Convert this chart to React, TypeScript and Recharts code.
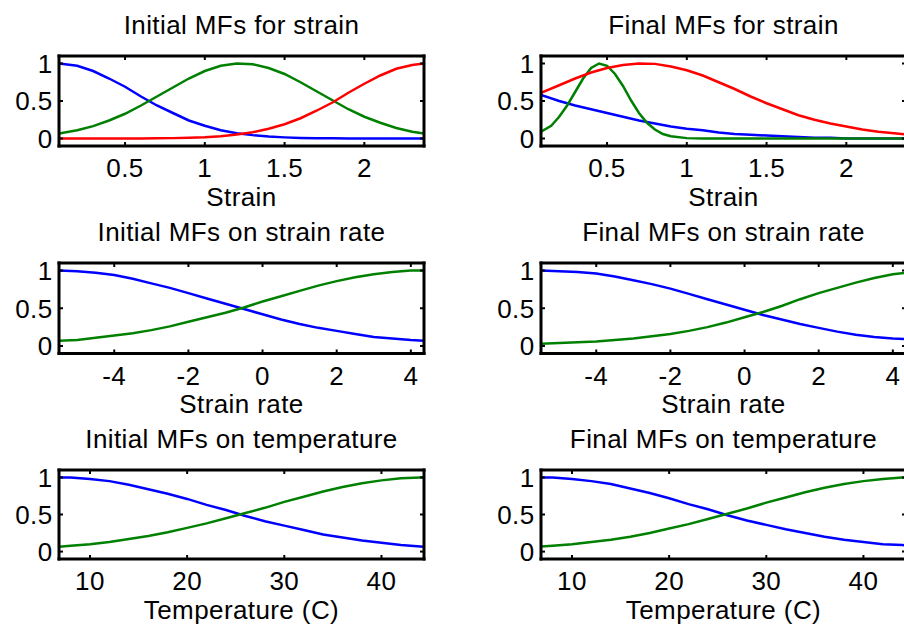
import React from 'react';
import { LineChart, Line, XAxis, YAxis, ReferenceLine } from 'recharts';

// ---------- data ----------
const strainX = [0.086, 0.2, 0.3, 0.4, 0.5, 0.6, 0.7, 0.8, 0.9, 1.0, 1.1, 1.2, 1.3, 1.4, 1.5, 1.6, 1.7, 1.8, 1.9, 2.0, 2.1, 2.2, 2.3, 2.374];
const initStrainBlue = [1.0, 0.97, 0.9, 0.8, 0.69, 0.56, 0.44, 0.34, 0.24, 0.17, 0.11, 0.07, 0.045, 0.026, 0.015, 0.008, 0.004, 0.002, 0.001, 0, 0, 0, 0, 0];
const initStrainGreen = [0.065, 0.11, 0.165, 0.24, 0.33, 0.44, 0.56, 0.68, 0.8, 0.9, 0.97, 1.0, 0.99, 0.94, 0.86, 0.75, 0.63, 0.51, 0.39, 0.29, 0.21, 0.14, 0.09, 0.065];
const initStrainRed = [0, 0, 0, 0, 0, 0.001, 0.003, 0.005, 0.01, 0.018, 0.031, 0.052, 0.084, 0.13, 0.19, 0.27, 0.37, 0.48, 0.61, 0.73, 0.84, 0.93, 0.98, 1.0];

const finalStrainBlue = [0.58, 0.5, 0.44, 0.39, 0.34, 0.29, 0.24, 0.2, 0.16, 0.13, 0.11, 0.08, 0.06, 0.05, 0.04, 0.03, 0.02, 0.01, 0.01, 0, 0, 0, 0, 0];
const finalStrainRed = [0.61, 0.71, 0.8, 0.88, 0.94, 0.98, 1.0, 0.995, 0.96, 0.91, 0.84, 0.75, 0.66, 0.56, 0.47, 0.39, 0.31, 0.25, 0.2, 0.16, 0.12, 0.09, 0.07, 0.055];
const finalStrainGreenX = [0.086, 0.15, 0.2, 0.25, 0.3, 0.35, 0.4, 0.45, 0.5, 0.55, 0.6, 0.65, 0.7, 0.75, 0.8, 0.85, 0.9, 1.0, 1.1, 1.5, 2.0, 2.374];
const finalStrainGreen = [0.09, 0.17, 0.29, 0.44, 0.62, 0.8, 0.94, 1.0, 0.97, 0.86, 0.7, 0.51, 0.34, 0.21, 0.12, 0.06, 0.03, 0.005, 0, 0, 0, 0];

const rateX = [-5.49, -5, -4.5, -4, -3.5, -3, -2.5, -2, -1.5, -1, -0.5, 0, 0.5, 1, 1.5, 2, 2.5, 3, 3.5, 4, 4.355];
const initRateBlue = [1.0, 0.99, 0.97, 0.94, 0.89, 0.83, 0.77, 0.7, 0.63, 0.56, 0.49, 0.42, 0.35, 0.29, 0.24, 0.2, 0.16, 0.12, 0.1, 0.08, 0.07];
const initRateGreen = [0.07, 0.08, 0.11, 0.14, 0.17, 0.21, 0.26, 0.32, 0.38, 0.44, 0.51, 0.59, 0.66, 0.73, 0.8, 0.86, 0.91, 0.95, 0.98, 1.0, 1.0];
const finalRateBlue = [1.0, 0.99, 0.98, 0.96, 0.92, 0.87, 0.82, 0.76, 0.69, 0.62, 0.55, 0.48, 0.41, 0.35, 0.29, 0.24, 0.19, 0.15, 0.12, 0.1, 0.09];
const finalRateGreen = [0.03, 0.04, 0.05, 0.06, 0.08, 0.1, 0.13, 0.16, 0.2, 0.25, 0.31, 0.38, 0.45, 0.53, 0.62, 0.7, 0.77, 0.84, 0.9, 0.95, 0.97];

const tempX = [6.81, 8, 10, 12, 14, 16, 18, 20, 22, 24, 26, 28, 30, 32, 34, 36, 38, 40, 42, 44, 44.38];
const initTempBlue = [1.0, 1.0, 0.98, 0.95, 0.9, 0.84, 0.78, 0.71, 0.63, 0.56, 0.48, 0.41, 0.35, 0.29, 0.23, 0.19, 0.15, 0.12, 0.09, 0.07, 0.065];
const initTempGreen = [0.065, 0.08, 0.1, 0.13, 0.17, 0.21, 0.26, 0.32, 0.38, 0.45, 0.52, 0.59, 0.67, 0.74, 0.81, 0.87, 0.92, 0.96, 0.99, 1.0, 1.0];
const finalTempBlue = [1.0, 1.0, 0.98, 0.95, 0.91, 0.85, 0.79, 0.72, 0.64, 0.57, 0.49, 0.42, 0.36, 0.3, 0.25, 0.2, 0.16, 0.13, 0.1, 0.09, 0.08];
const finalTempGreen = [0.07, 0.08, 0.1, 0.13, 0.16, 0.2, 0.25, 0.31, 0.37, 0.44, 0.51, 0.58, 0.66, 0.73, 0.8, 0.86, 0.91, 0.95, 0.98, 1.0, 1.0];

const strainTicks = [0.5, 1, 1.5, 2];
const rateTicks = [-4, -2, 0, 2, 4];
const tempTicks = [10, 20, 30, 40];
const yTicks = [0, 0.5, 1];

const strainDomain: [number, number] = [0.086, 2.374];
const rateDomain: [number, number] = [-5.49, 4.355];
const tempDomain: [number, number] = [6.81, 44.38];

const BLUE = '#0000ff';
const GREEN = '#008000';
const RED = '#ff0000';

// ---------- layout ----------
const FONT = '"Liberation Sans", Arial, Helvetica, sans-serif';
const FS = 26;
const PLOT_W = 365;
const COLS = [59, 541];
const ROWS = [
  { top: 55.5, h: 90 },
  { top: 262.5, h: 90.5 },
  { top: 469.5, h: 89 },
];
const YAXIS_W = 60;
const XAXIS_H = 40;

type Series = { xs: number[]; ys: number[]; color: string };

const toPts = (xs: number[], ys: number[]) => xs.map((x, i) => ({ x, y: ys[i] }));

function Panel(props: {
  col: number;
  row: number;
  title: string;
  xlabel: string;
  domain: [number, number];
  ticks: number[];
  series: Series[];
}) {
  const { col, row, title, xlabel, domain, ticks, series } = props;
  const left = COLS[col];
  const { top, h } = ROWS[row];
  const ML = 80, MT = 10, MR = 10, MB = 60;
  const W = ML + PLOT_W + MR;
  const H = MT + h + MB;

  const XTick = (p: any) => {
    const { x, y, payload } = p;
    return (
      <g>
        <line x1={x} x2={x} y1={y} y2={y - 4} stroke="#000" strokeWidth={2} />
        <line x1={x} x2={x} y1={y - h} y2={y - h + 4} stroke="#000" strokeWidth={2} />
        <text x={x} y={y + 22 + 9.3} textAnchor="middle" fontFamily={FONT} fontSize={FS} letterSpacing={0.4} fill="#000">
          {String(payload.value)}
        </text>
      </g>
    );
  };
  const YTick = (p: any) => {
    const { x, y, payload } = p;
    return (
      <g>
        <line x1={x} x2={x + 4} y1={y} y2={y} stroke="#000" strokeWidth={2} />
        <line x1={x + PLOT_W} x2={x + PLOT_W - 4} y1={y} y2={y} stroke="#000" strokeWidth={2} />
        <text x={x - 6.5} y={y + 9.3} textAnchor="end" fontFamily={FONT} fontSize={FS} letterSpacing={0.4} fill="#000">
          {String(payload.value)}
        </text>
      </g>
    );
  };

  const textStyle: React.CSSProperties = {
    position: 'absolute',
    width: 440,
    left: left + PLOT_W / 2 - 220,
    textAlign: 'center',
    fontFamily: FONT,
    fontSize: FS,
    lineHeight: `${FS}px`,
    letterSpacing: 0.4,
    color: '#000',
    whiteSpace: 'nowrap',
  };

  return (
    <>
      <div style={{ ...textStyle, top: top - 30.5 - 12.7 }}>{title}</div>
      <div style={{ ...textStyle, top: top + h + 51 - 12.7 }}>{xlabel}</div>
      <div style={{ position: 'absolute', left: left - ML, top: top - MT }}>
        <LineChart width={W} height={H} margin={{ top: MT, right: MR, bottom: MB - XAXIS_H, left: ML - YAXIS_W }}>
          <XAxis
            type="number"
            dataKey="x"
            domain={domain}
            allowDataOverflow
            ticks={ticks}
            interval={0}
            tick={XTick}
            tickLine={false}
            tickSize={0}
            tickMargin={0}
            height={XAXIS_H}
            axisLine={{ stroke: '#000', strokeWidth: 3, strokeLinecap: 'square' }}
          />
          <YAxis
            type="number"
            domain={[-0.1, 1.1]}
            allowDataOverflow
            ticks={yTicks}
            interval={0}
            tick={YTick}
            tickLine={false}
            tickSize={0}
            tickMargin={0}
            width={YAXIS_W}
            axisLine={{ stroke: '#000', strokeWidth: 3, strokeLinecap: 'square' }}
          />
          {series.map((s, i) => (
            <Line
              key={i}
              data={toPts(s.xs, s.ys)}
              dataKey="y"
              type="linear"
              stroke={s.color}
              strokeWidth={2.5}
              dot={false}
              activeDot={false}
              isAnimationActive={false}
            />
          ))}
          <ReferenceLine y={1.1} stroke="#000" strokeWidth={3} strokeLinecap="square" />
          <ReferenceLine x={domain[1]} stroke="#000" strokeWidth={3} strokeLinecap="square" />
        </LineChart>
      </div>
    </>
  );
}

export default function App() {
  return (
    <div style={{ position: 'fixed', left: 0, top: 0, width: 904, height: 629, overflow: 'hidden', background: '#fff' }}>
      <Panel
        col={0}
        row={0}
        title="Initial MFs for strain"
        xlabel="Strain"
        domain={strainDomain}
        ticks={strainTicks}
        series={[
          { xs: strainX, ys: initStrainBlue, color: BLUE },
          { xs: strainX, ys: initStrainGreen, color: GREEN },
          { xs: strainX, ys: initStrainRed, color: RED },
        ]}
      />
      <Panel
        col={1}
        row={0}
        title="Final MFs for strain"
        xlabel="Strain"
        domain={strainDomain}
        ticks={strainTicks}
        series={[
          { xs: strainX, ys: finalStrainBlue, color: BLUE },
          { xs: finalStrainGreenX, ys: finalStrainGreen, color: GREEN },
          { xs: strainX, ys: finalStrainRed, color: RED },
        ]}
      />
      <Panel
        col={0}
        row={1}
        title="Initial MFs on strain rate"
        xlabel="Strain rate"
        domain={rateDomain}
        ticks={rateTicks}
        series={[
          { xs: rateX, ys: initRateBlue, color: BLUE },
          { xs: rateX, ys: initRateGreen, color: GREEN },
        ]}
      />
      <Panel
        col={1}
        row={1}
        title="Final MFs on strain rate"
        xlabel="Strain rate"
        domain={rateDomain}
        ticks={rateTicks}
        series={[
          { xs: rateX, ys: finalRateBlue, color: BLUE },
          { xs: rateX, ys: finalRateGreen, color: GREEN },
        ]}
      />
      <Panel
        col={0}
        row={2}
        title="Initial MFs on temperature"
        xlabel="Temperature (C)"
        domain={tempDomain}
        ticks={tempTicks}
        series={[
          { xs: tempX, ys: initTempBlue, color: BLUE },
          { xs: tempX, ys: initTempGreen, color: GREEN },
        ]}
      />
      <Panel
        col={1}
        row={2}
        title="Final MFs on temperature"
        xlabel="Temperature (C)"
        domain={tempDomain}
        ticks={tempTicks}
        series={[
          { xs: tempX, ys: finalTempBlue, color: BLUE },
          { xs: tempX, ys: finalTempGreen, color: GREEN },
        ]}
      />
    </div>
  );
}
